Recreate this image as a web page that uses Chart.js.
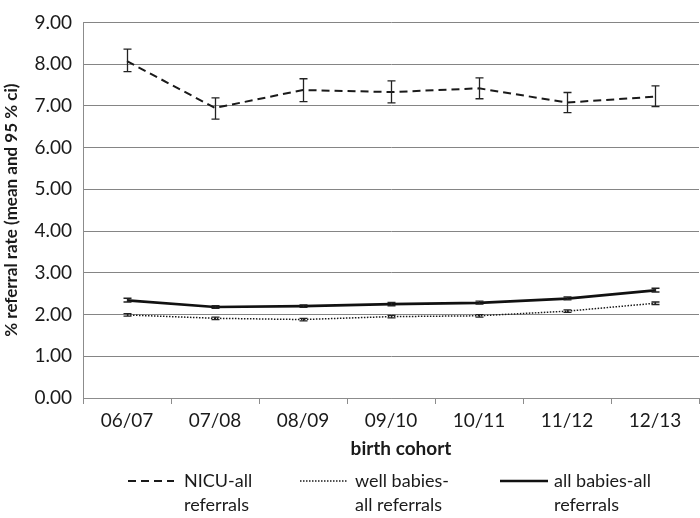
<!DOCTYPE html>
<html>
<head>
<meta charset="utf-8">
<script src="https://cdn.jsdelivr.net/npm/chart.js@4/dist/chart.umd.min.js"></script>
<style>
html,body{margin:0;padding:0;background:#fff;}
#wrap{width:700px;height:518px;}
</style>
</head>
<body>
<div id="wrap"><canvas id="c" width="700" height="518"></canvas></div>
<script>
const categories = ['06/07','07/08','08/09','09/10','10/11','11/12','12/13'];
const nicuMean = [8.07, 6.95, 7.38, 7.33, 7.42, 7.08, 7.22];
const nicuLow  = [7.82, 6.68, 7.10, 7.07, 7.17, 6.84, 6.98];
const nicuHigh = [8.36, 7.19, 7.65, 7.60, 7.67, 7.32, 7.48];
const wellMean = [1.99, 1.91, 1.88, 1.95, 1.97, 2.08, 2.27];
const wellLow  = [1.96, 1.88, 1.85, 1.92, 1.94, 2.05, 2.24];
const wellHigh = [2.02, 1.94, 1.91, 1.98, 2.00, 2.11, 2.30];
const allMean  = [2.34, 2.18, 2.20, 2.25, 2.28, 2.38, 2.58];
const allLow   = [2.30, 2.15, 2.17, 2.21, 2.25, 2.35, 2.54];
const allHigh  = [2.39, 2.21, 2.23, 2.29, 2.32, 2.42, 2.63];
const seriesNames = [['NICU-all','referrals'], ['well babies-','all referrals'], ['all babies-all','referrals']];
const yTicks = [0,1,2,3,4,5,6,7,8,9];
const xTitle = 'birth cohort';
const yTitle = '% referral rate (mean and 95 % ci)';

const FONT = 'Lato';
const TXT = '#1a1a1a';

const errorBars = {
  id: 'errorBars',
  afterDatasetsDraw(chart) {
    const ctx = chart.ctx;
    const xs = chart.scales.x, ys = chart.scales.y;
    ctx.save();
    ctx.strokeStyle = '#222';
    ctx.lineWidth = 1.3;
    chart.data.datasets.forEach(ds => {
      ds.ciLow.forEach((lo, i) => {
        const x = Math.round(xs.getPixelForValue(i)) + 0.5;
        const yl = ys.getPixelForValue(lo);
        const yh = ys.getPixelForValue(ds.ciHigh[i]);
        const w = 4;
        ctx.beginPath();
        ctx.moveTo(x, yl); ctx.lineTo(x, yh);
        ctx.moveTo(x - w, yl); ctx.lineTo(x + w, yl);
        ctx.moveTo(x - w, yh); ctx.lineTo(x + w, yh);
        ctx.stroke();
      });
    });
    ctx.restore();
  }
};

const textPlugin = {
  id: 'customText',
  afterDraw(chart) {
    const ctx = chart.ctx;
    const ca = chart.chartArea;
    ctx.save();
    ctx.fillStyle = TXT;
    ctx.font = 'bold 19px ' + FONT;
    ctx.textAlign = 'center';
    ctx.textBaseline = 'middle';
    ctx.fillText(xTitle, (ca.left + ca.right) / 2 + 10, 449);
    const items = [
      {x1: 128, x2: 174, tx: 184},
      {x1: 300, x2: 347, tx: 355},
      {x1: 500, x2: 548, tx: 554}
    ];
    const y1 = 481, y2 = 505;
    chart.data.datasets.forEach((ds, i) => {
      const it = items[i];
      ctx.strokeStyle = ds.borderColor;
      ctx.lineWidth = ds.borderWidth;
      ctx.setLineDash(ds.borderDash || []);
      ctx.beginPath();
      ctx.moveTo(it.x1, y1); ctx.lineTo(it.x2, y1);
      ctx.stroke();
      ctx.setLineDash([]);
      ctx.fillStyle = TXT;
      ctx.font = '18px ' + FONT;
      ctx.textBaseline = 'middle';
      ctx.textAlign = 'left';
      ctx.fillText(seriesNames[i][0], it.tx, y1);
      ctx.fillText(seriesNames[i][1], it.tx, y2);
    });
    ctx.restore();
  }
};

new Chart(document.getElementById('c'), {
  type: 'line',
  data: {
    labels: categories,
    datasets: [
      {label: seriesNames[0].join(' '), data: nicuMean, ciLow: nicuLow, ciHigh: nicuHigh,
       borderColor: '#1a1a1a', borderWidth: 2, borderDash: [8, 5], pointRadius: 0, tension: 0, fill: false},
      {label: seriesNames[1].join(' '), data: wellMean, ciLow: wellLow, ciHigh: wellHigh,
       borderColor: '#1a1a1a', borderWidth: 1.5, borderDash: [1.5, 1.5], pointRadius: 0, tension: 0, fill: false},
      {label: seriesNames[2].join(' '), data: allMean, ciLow: allLow, ciHigh: allHigh,
       borderColor: '#111', borderWidth: 2.7, pointRadius: 0, tension: 0, fill: false}
    ]
  },
  options: {
    responsive: false,
    animation: false,
    devicePixelRatio: 1,
    layout: {padding: {top: 9, right: 1, bottom: 48, left: 0}},
    plugins: {legend: {display: false}, tooltip: {enabled: false}},
    scales: {
      x: {
        offset: true,
        grid: {drawOnChartArea: false, drawTicks: true, tickLength: 6, offset: true, color: '#8c8c8c'},
        border: {display: true, color: '#8c8c8c'},
        ticks: {color: TXT, font: {family: FONT, size: 19}, padding: 5, maxRotation: 0},
        title: {display: false},
        afterFit(s) { s.height = 72; }
      },
      y: {
        min: 0, max: 9,
        afterBuildTicks(s) { s.ticks = yTicks.map(v => ({value: v})); },
        grid: {color: '#858585', lineWidth: 1, drawTicks: false},
        border: {display: true, color: '#8c8c8c'},
        ticks: {color: TXT, font: {family: FONT, size: 19}, padding: 11, callback: v => Number(v).toFixed(2)},
        title: {display: true, text: yTitle, color: TXT, font: {family: FONT, size: 17, weight: 'bold'}, padding: {top: 1, bottom: 0}},
        afterFit(s) { s.width = 83; }
      }
    }
  },
  plugins: [errorBars, textPlugin]
});
</script>
</body>
</html>
